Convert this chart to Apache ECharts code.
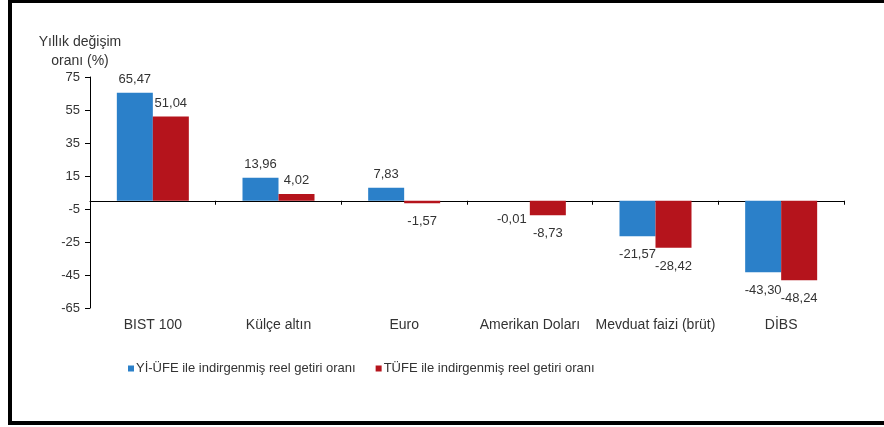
<!DOCTYPE html>
<html>
<head>
<meta charset="utf-8">
<script src="https://cdn.jsdelivr.net/npm/echarts@6/dist/echarts.min.js"></script>
<style>
html,body{margin:0;padding:0;background:#fff;}
#c{width:884px;height:427px;}
</style>
</head>
<body>
<div id="c"></div>
<script>
var categories = ['BIST 100', 'Külçe altın', 'Euro', 'Amerikan Doları', 'Mevduat faizi (brüt)', 'DİBS'];
var yiUfe = [65.47, 13.96, 7.83, -0.01, -21.57, -43.30];
var tufe = [51.04, 4.02, -1.57, -8.73, -28.42, -48.24];
var seriesNames = ['Yİ-ÜFE ile indirgenmiş reel getiri oranı', 'TÜFE ile indirgenmiş reel getiri oranı'];
var yTicks = [-65, -45, -25, -5, 15, 35, 55, 75];

var FONT = '"Liberation Sans", Arial, sans-serif';
var TXT = '#333';

function fmt(v){ return v.toFixed(2).replace('.', ','); }
function mkData(arr){
  return arr.map(function(v){
    return {value: v, label: v < 0 ? {position: 'bottom', distance: 12} : {position: 'top', distance: 7}};
  });
}

var chart = echarts.init(document.getElementById('c'), null, {renderer: 'canvas'});
chart.setOption({
  animation: false,
  backgroundColor: '#fff',
  textStyle: {fontFamily: FONT},
  grid: {left: 90, right: 40, top: 77, bottom: 119, containLabel: false},
  legend: {
    left: 123, top: 357,
    itemWidth: 6, itemHeight: 6, itemGap: 20,
    icon: 'rect',
    textStyle: {fontFamily: FONT, fontSize: 13, color: TXT, padding: [0,0,0,-3]},
    data: seriesNames
  },
  xAxis: [{
    type: 'category',
    data: categories,
    axisLine: {onZero: true, lineStyle: {color: '#000', width: 1}},
    axisTick: {show: true, length: 4, interval: 0, lineStyle: {color: '#000'}},
    axisLabel: {show: false},
    splitLine: {show: false}
  }, {
    type: 'category',
    data: categories,
    position: 'bottom',
    axisLine: {show: false, onZero: false},
    axisTick: {show: false},
    axisLabel: {show: true, interval: 0, margin: 10, fontFamily: FONT, fontSize: 14, color: TXT},
    splitLine: {show: false}
  }],
  yAxis: {
    type: 'value',
    min: -65, max: 75,
    name: 'Yıllık değişim\noranı (%)',
    nameLocation: 'end',
    nameGap: 5,
    nameTextStyle: {fontFamily: FONT, fontSize: 14, color: TXT, align: 'center', verticalAlign: 'bottom', lineHeight: 19, padding: [0, 20, 0, 0]},
    axisLine: {show: true, lineStyle: {color: '#000', width: 1}},
    axisTick: {show: true, length: 5, customValues: yTicks, lineStyle: {color: '#000'}},
    axisLabel: {customValues: yTicks, margin: 10, fontFamily: FONT, fontSize: 13, color: TXT},
    splitLine: {show: false}
  },
  series: [{
    name: seriesNames[0],
    type: 'bar',
    xAxisIndex: 0,
    data: mkData(yiUfe),
    barWidth: 36,
    barGap: '0%',
    itemStyle: {color: '#2b80c9'},
    label: {show: true, fontFamily: FONT, fontSize: 13, color: TXT, formatter: function(p){return fmt(p.value);}}
  }, {
    name: seriesNames[1],
    type: 'bar',
    xAxisIndex: 0,
    data: mkData(tufe),
    barWidth: 36,
    barGap: '0%',
    itemStyle: {color: '#b5141c'},
    label: {show: true, fontFamily: FONT, fontSize: 13, color: TXT, formatter: function(p){return fmt(p.value);}}
  }],
  graphic: [
    {type: 'line', silent: true, shape: {x1: 8, y1: 1.5, x2: 884, y2: 1.5}, style: {stroke: '#000', lineWidth: 3}},
    {type: 'line', silent: true, shape: {x1: 10, y1: 0, x2: 10, y2: 425}, style: {stroke: '#000', lineWidth: 4}},
    {type: 'line', silent: true, shape: {x1: 8, y1: 423, x2: 884, y2: 423}, style: {stroke: '#000', lineWidth: 4}}
  ]
});
</script>
</body>
</html>
